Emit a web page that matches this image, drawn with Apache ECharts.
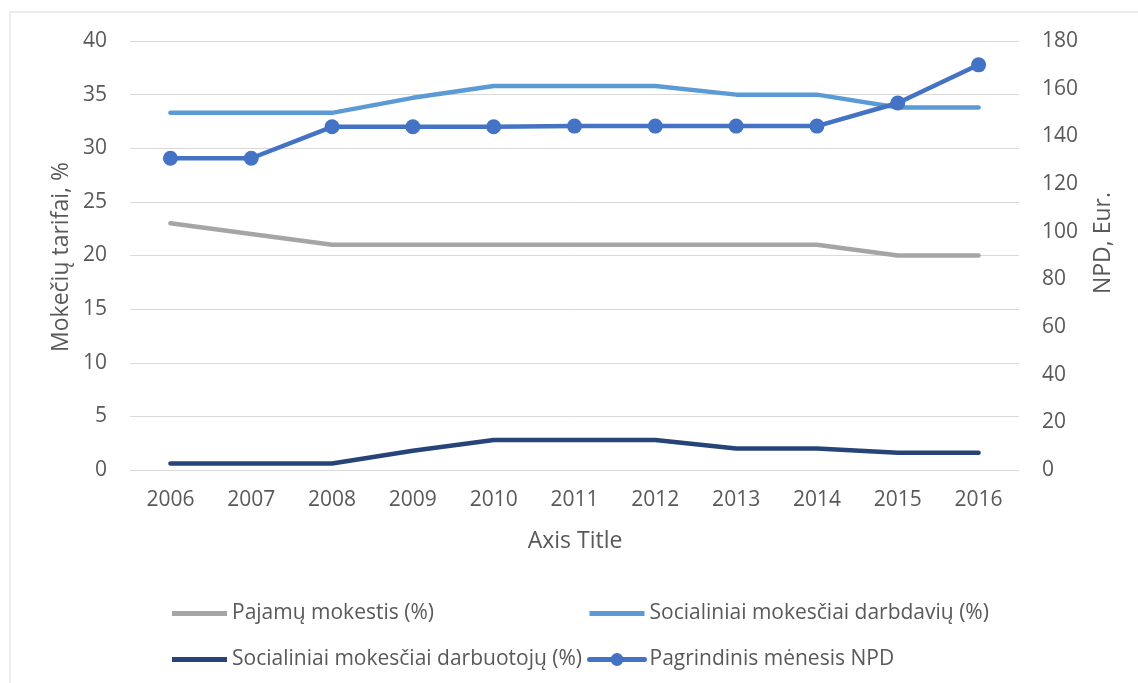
<!DOCTYPE html>
<html>
<head>
<meta charset="utf-8">
<script src="https://cdn.jsdelivr.net/npm/echarts@6/dist/echarts.min.js"></script>
<style>
  html, body { margin: 0; padding: 0; background: #fff; }
  #chart { width: 1138px; height: 683px; }
</style>
</head>
<body>
<div id="chart"></div>
<script>
// Years on the category axis
const years = ['2006', '2007', '2008', '2009', '2010', '2011', '2012', '2013', '2014', '2015', '2016'];

// Tax rates, % (left axis)
const pajamuMokestis = [23, 22, 21, 21, 21, 21, 21, 21, 21, 20, 20];
const darbdaviu = [33.3, 33.3, 33.3, 34.7, 35.8, 35.8, 35.8, 35, 35, 33.8, 33.8];
const darbuotoju = [0.6, 0.6, 0.6, 1.8, 2.8, 2.8, 2.8, 2.0, 2.0, 1.6, 1.6];

// Basic monthly tax-exempt income, EUR (right axis)
const npd = [130.8, 130.8, 144, 144, 144, 144.3, 144.3, 144.3, 144.3, 154, 170];

const seriesNames = [
  'Pajamų mokestis (%)',
  'Socialiniai mokesčiai darbdavių (%)',
  'Socialiniai mokesčiai darbuotojų (%)',
  'Pagrindinis mėnesis NPD'
];

const FONT = 'Open Sans';
const TEXT = '#595959';
const GRID = '#D9D9D9';

// Plain bar icon (no marker) for the line-only series in the legend
const BAR_ICON = 'path://M0,0M55,16M0,5.5h55v5h-55z';

const chart = echarts.init(document.getElementById('chart'));

const legendCommon = {
  orient: 'vertical',
  padding: 0,
  itemWidth: 55,
  itemHeight: 16,
  itemGap: 24,
  top: 602.5,
  textStyle: { fontFamily: FONT, fontSize: 21, color: TEXT, lineHeight: 22 },
  lineStyle: { width: 5, cap: 'round' }
};

chart.setOption({
  animation: false,
  backgroundColor: '#fff',
  grid: { left: 130, right: 119, top: 41, bottom: 213 },
  graphic: [
    {
      type: 'rect',
      shape: { x: 10, y: 12, width: 1200, height: 700 },
      style: { fill: 'none', stroke: GRID, lineWidth: 1 },
      silent: true
    },
    {
      type: 'text',
      x: 61, y: 257, rotation: Math.PI / 2,
      style: { text: 'Mokečių tarifai, %', fontFamily: FONT, fontSize: 23, fill: TEXT, align: 'center', verticalAlign: 'middle' }
    },
    {
      type: 'text',
      x: 1103, y: 243, rotation: Math.PI / 2,
      style: { text: 'NPD, Eur.', fontFamily: FONT, fontSize: 23, fill: TEXT, align: 'center', verticalAlign: 'middle' }
    },
    {
      type: 'text',
      x: 575, y: 541,
      style: { text: 'Axis Title', fontFamily: FONT, fontSize: 23, fill: TEXT, align: 'center', verticalAlign: 'middle' }
    }
  ],
  legend: [
    Object.assign({}, legendCommon, {
      left: 172,
      data: [
        { name: seriesNames[0], icon: BAR_ICON },
        { name: seriesNames[2], icon: BAR_ICON }
      ]
    }),
    Object.assign({}, legendCommon, {
      left: 587,
      data: [
        { name: seriesNames[1], icon: BAR_ICON },
        { name: seriesNames[3] }
      ]
    })
  ],
  xAxis: {
    type: 'category',
    data: years,
    boundaryGap: true,
    axisLine: { show: true, lineStyle: { color: GRID, width: 1 } },
    axisTick: { show: false },
    axisLabel: { fontFamily: FONT, fontSize: 21, color: TEXT, margin: 20 }
  },
  yAxis: [
    {
      type: 'value',
      min: 0, max: 40, interval: 5,
      axisLine: { show: false },
      axisTick: { show: false },
      axisLabel: { fontFamily: FONT, fontSize: 21, color: TEXT, margin: 23 },
      splitLine: { show: true, lineStyle: { color: GRID, width: 1 } }
    },
    {
      type: 'value',
      min: 0, max: 180, interval: 20,
      axisLine: { show: false },
      axisTick: { show: false },
      axisLabel: { fontFamily: FONT, fontSize: 21, color: TEXT, margin: 23 },
      splitLine: { show: false }
    }
  ],
  series: [
    {
      name: seriesNames[0], type: 'line', data: pajamuMokestis,
      symbol: 'none', color: '#A5A5A5',
      lineStyle: { width: 4.5, color: '#A5A5A5', cap: 'round', join: 'round' }
    },
    {
      name: seriesNames[1], type: 'line', data: darbdaviu,
      symbol: 'none', color: '#5B9BD5',
      lineStyle: { width: 4.5, color: '#5B9BD5', cap: 'round', join: 'round' }
    },
    {
      name: seriesNames[2], type: 'line', data: darbuotoju,
      symbol: 'none', color: '#264478',
      lineStyle: { width: 4.5, color: '#264478', cap: 'round', join: 'round' }
    },
    {
      name: seriesNames[3], type: 'line', data: npd, yAxisIndex: 1,
      symbol: 'circle', symbolSize: 15, color: '#4472C4',
      itemStyle: { color: '#4472C4' },
      lineStyle: { width: 4.5, color: '#4472C4', cap: 'round', join: 'round' }
    }
  ]
});
</script>
</body>
</html>
